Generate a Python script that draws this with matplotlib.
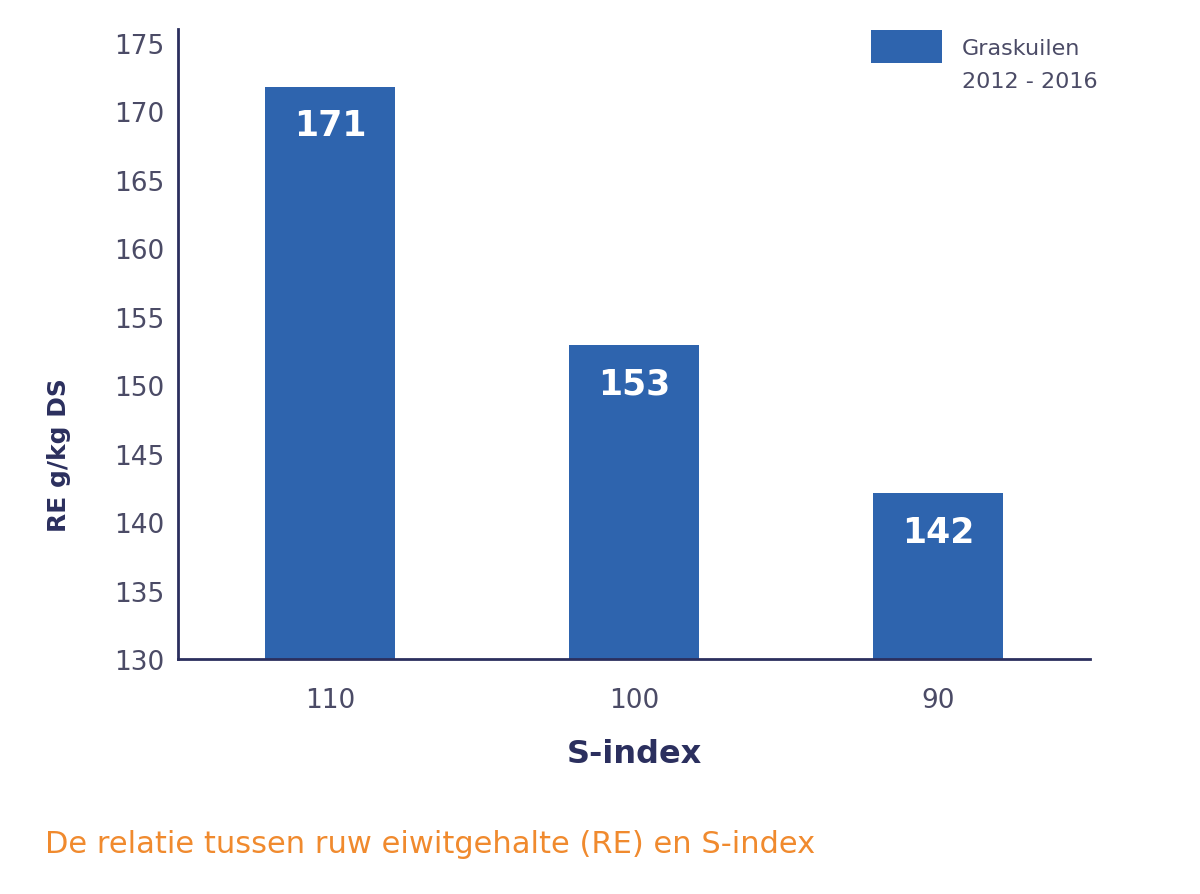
import matplotlib
matplotlib.use("Agg")
import matplotlib.pyplot as plt
from matplotlib.patches import Patch

# data
categories = ["110", "100", "90"]
re_values = [171.8, 152.9, 142.1]       # drawn bar heights
bar_labels = ["171", "153", "142"]      # printed labels
series_name = "Graskuilen"
period = "2012 - 2016"
yticks = [130, 135, 140, 145, 150, 155, 160, 165, 170, 175]

bar_c = "#2e64ae"
axis_c = "#2b2f5e"
tick_c = "#4b4b66"
orange = "#f08a2e"
plt.rcParams["font.family"] = ["DejaVu Sans"]

fig = plt.figure(figsize=(12, 8.95), dpi=100)
ax = fig.add_axes([178/1200, 1-660/895, (1090-178)/1200, (660-30)/895])

x = range(len(categories))
bars = ax.bar(x, re_values, width=0.43, color=bar_c, zorder=2)
for b, lab in zip(bars, bar_labels):
    ax.text(b.get_x()+b.get_width()/2, b.get_height()-2.8, lab, ha="center", va="center",
            color="white", fontsize=25, fontweight="bold")

ax.set_xlim(-0.5, 2.5)
ax.set_ylim(130, 176)
ax.set_yticks(yticks)
ax.set_xticks(list(x))
ax.set_xticklabels(categories)
ax.tick_params(axis="both", length=0, labelsize=19, colors=tick_c, pad=10)
ax.tick_params(axis="x", pad=20)
for s in ("top", "right"):
    ax.spines[s].set_visible(False)
for s in ("left", "bottom"):
    ax.spines[s].set_color(axis_c)
    ax.spines[s].set_linewidth(2)

ax.set_xlabel("S-index", fontsize=23, fontweight="bold", color=axis_c, labelpad=18)
ax.set_ylabel("RE g/kg DS", fontsize=18, fontweight="bold", color=axis_c)
ax.yaxis.set_label_coords(-0.117, 0.325)

handles = [Patch(facecolor=bar_c), Patch(facecolor="none", edgecolor="none")]
leg = ax.legend(handles, [series_name, period], loc="upper right", bbox_to_anchor=(1.03, 1.03),
                frameon=False, fontsize=16, handlelength=3.2, handleheight=1.9,
                handletextpad=0.9, labelspacing=0.0, labelcolor=tick_c)

fig.text(45/1200, 1-845/895, "De relatie tussen ruw eiwitgehalte (RE) en S-index",
         fontsize=22, color=orange, va="center", ha="left")

fig.savefig("out.png", dpi=100, facecolor="white")
